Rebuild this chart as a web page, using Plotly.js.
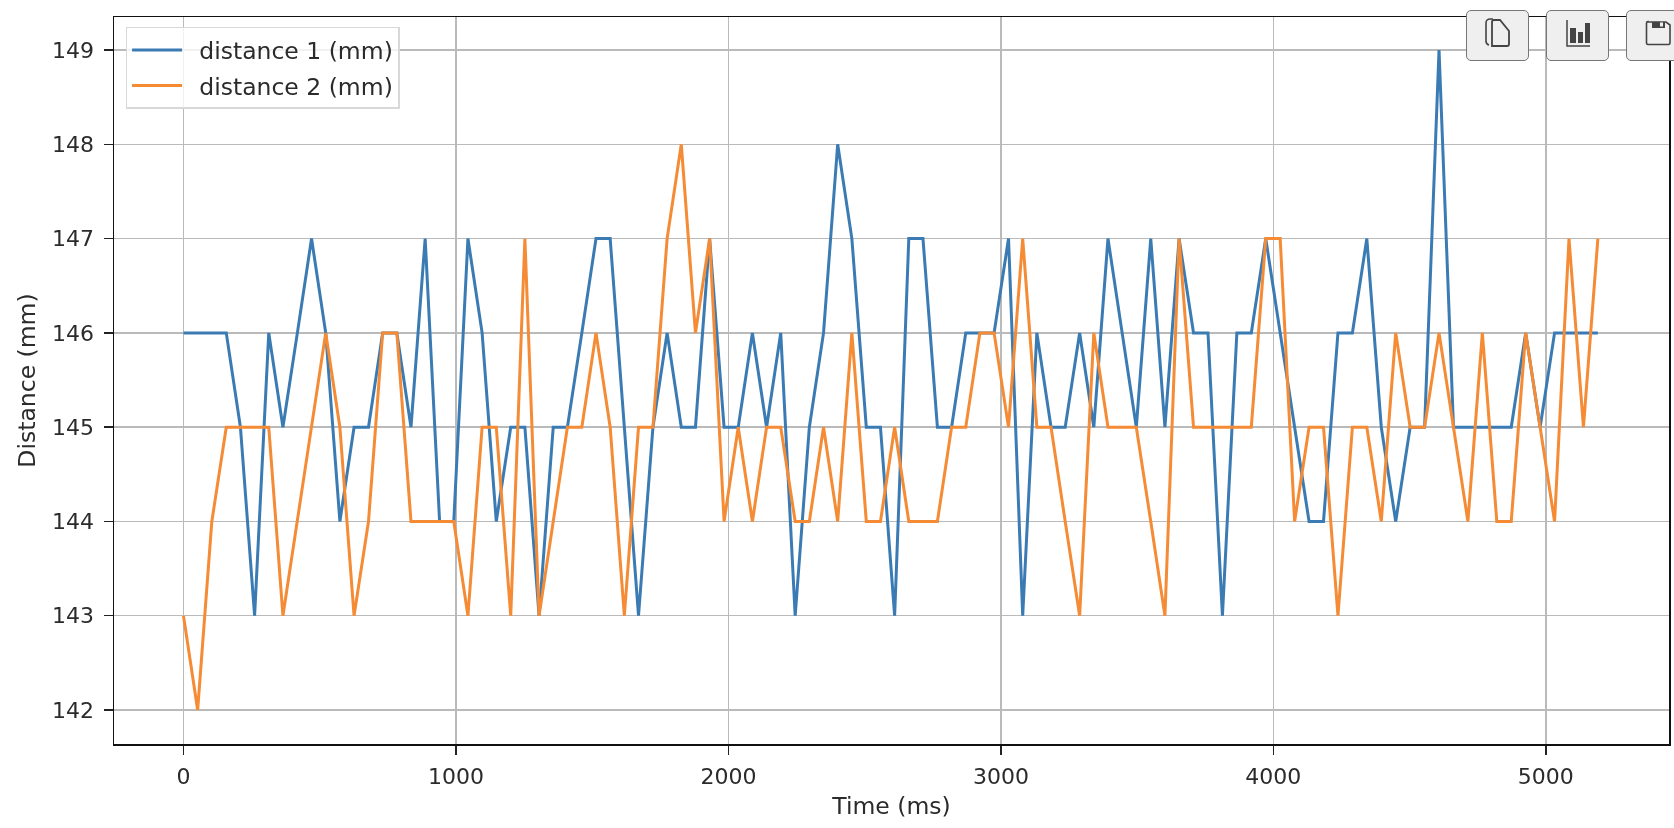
<!DOCTYPE html>
<html>
<head>
<meta charset="utf-8">
<script src="https://cdn.plot.ly/plotly-3.0.1.min.js"></script>
<style>
html,body{margin:0;padding:0;background:#fff;overflow:hidden;width:1674px;height:828px}
#plot{position:absolute;left:0;top:0;width:1674px;height:828px;filter:blur(0.4px)}
.btn{position:absolute;top:10px;width:61px;height:49px;background:#efefef;border:1.5px solid #767676;border-radius:5px;box-sizing:content-box}
.btn svg{position:absolute;left:0;top:0}
</style>
</head>
<body>
<div id="plot"></div>
<div class="btn" style="left:1466px"><svg width="61" height="49" fill="none" stroke="#444" stroke-width="1.6"><path d="M26 8h-3a4 4 0 0 0-4 4v18a4 4 0 0 0 3 4"/><path d="M25 35V11a2 2 0 0 1 2-2h6l9 11v13a2 2 0 0 1-2 2z" stroke-width="1.8"/></svg></div>
<div class="btn" style="left:1546px"><svg width="61" height="49"><path d="M20 9v26h23" fill="none" stroke="#444" stroke-width="1.5"/><rect x="23" y="17" width="6" height="15" fill="#444"/><rect x="31" y="21" width="5" height="11" fill="#444"/><rect x="38" y="12" width="5" height="20" fill="#444"/></svg></div>
<div class="btn" style="left:1626px"><svg width="61" height="49" fill="none" stroke="#444" stroke-width="1.6"><path d="M21 11h18l4 3v18a1.500 1.500 0 0 1-1.500 1.500h-20.500a1.500 1.500 0 0 1-1.500-1.500v-20a1.500 1.500 0 0 1 1.500-1.500z"/><rect x="25" y="11" width="13" height="6" fill="#444" stroke="none"/><rect x="33" y="11.500" width="3" height="4" fill="#efefef" stroke="none"/></svg></div>
<script>
const timeMs = [0,52,104,157,209,261,313,365,418,470,522,574,626,679,731,783,835,887,940,992,
1044,1096,1148,1201,1253,1305,1357,1409,1462,1514,1566,1618,1670,1723,1775,1827,1879,1931,1984,2036,
2088,2140,2192,2245,2297,2349,2401,2453,2506,2558,2610,2662,2714,2767,2819,2871,2923,2975,3028,3080,
3132,3184,3236,3289,3341,3393,3445,3497,3550,3602,3654,3707,3760,3813,3866,3919,3972,4025,4078,4131,
4184,4237,4290,4343,4396,4449,4502,4555,4608,4661,4714,4767,4820,4873,4926,4979,5032,5085,5138,5191];
const distance1 = [146,146,146,146,145,143,146,145,146,147,
146,144,145,145,146,146,145,147,144,144,
147,146,144,145,145,143,145,145,146,147,
147,145,143,145,146,145,145,147,145,145,
146,145,146,143,145,146,148,147,145,145,
143,147,147,145,145,146,146,146,147,143,
146,145,145,146,145,147,146,145,147,145,
147,146,146,143,146,146,147,146,145,144,
144,146,146,147,145,144,145,145,149,145,
145,145,145,145,146,145,146,146,146,146];
const distance2 = [143,142,144,145,145,145,145,143,144,145,
146,145,143,144,146,146,144,144,144,144,
143,145,145,143,147,143,144,145,145,146,
145,143,145,145,147,148,146,147,144,145,
144,145,145,144,144,145,144,146,144,144,
145,144,144,144,145,145,146,146,145,147,
145,145,144,143,146,145,145,145,144,143,
147,145,145,145,145,145,147,147,144,145,
145,143,145,145,144,146,145,145,146,145,
144,146,144,144,146,145,144,147,145,147];
const xTicks = [0,1000,2000,3000,4000,5000];
const yTicks = [142,143,144,145,146,147,148,149];
const seriesNames = ["\u00a0\u2009distance 1 (mm)","\u00a0\u2009distance 2 (mm)"];
const font = "DejaVu Sans, sans-serif";
const axisCommon = {
  showgrid:true, gridcolor:"#bababa", gridwidth:1.4, zeroline:false,
  showline:true, mirror:true, linecolor:"#111", linewidth:1.5,
  ticks:"outside", ticklen:9, tickwidth:1.4, tickcolor:"#222",
  tickfont:{family:font,size:22,color:"#2b2b2b"}
};
Plotly.newPlot("plot",[
  {x:timeMs,y:distance1,name:seriesNames[0],legendgroup:"a",mode:"lines",line:{color:"#3b7bb3",width:3}},
  {x:timeMs,y:distance2,name:seriesNames[1],legendgroup:"b",mode:"lines",line:{color:"#f58b35",width:3}}
],{
  width:1674,height:828,
  margin:{l:113.5,r:5,t:17,b:84,pad:0},
  paper_bgcolor:"#fff",plot_bgcolor:"#fff",
  showlegend:true,
  legend:{x:0.0075,y:0.9865,xanchor:"left",yanchor:"top",bgcolor:"rgba(255,255,255,0.8)",
    bordercolor:"#d8d8d8",borderwidth:1.4,font:{family:font,size:23.5,color:"#2b2b2b"},itemwidth:50,tracegroupgap:2},
  xaxis:Object.assign({},axisCommon,{range:[-255,5452],tickmode:"array",tickvals:xTicks,ticktext:xTicks.map(String),ticklabelstandoff:3,
    title:{text:"Time (ms)",font:{family:font,size:23.5,color:"#2b2b2b"},standoff:9}}),
  yaxis:Object.assign({},axisCommon,{range:[141.64,149.35],tickmode:"array",tickvals:yTicks,ticktext:yTicks.map(String),ticklabelstandoff:5,
    title:{text:"Distance (mm)",font:{family:font,size:23.5,color:"#2b2b2b"},standoff:10}})
},{displayModeBar:false,staticPlot:true});
</script>
</body>
</html>
